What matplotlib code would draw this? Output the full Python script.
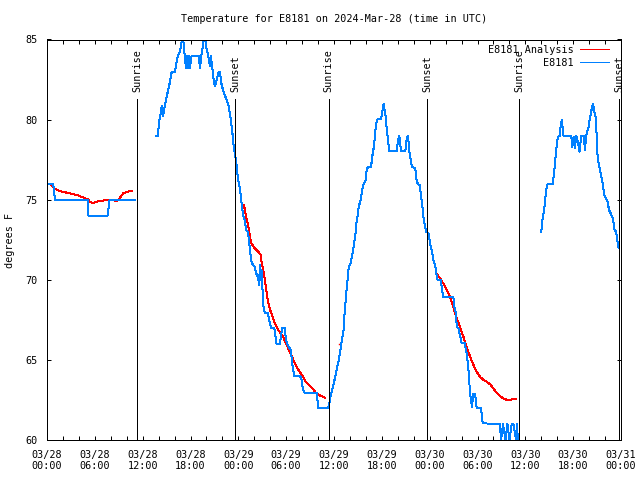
import numpy as np
import matplotlib
matplotlib.use('Agg')
import matplotlib.pyplot as plt
import matplotlib.dates as mdates
import matplotlib.transforms as mtransforms

# hours since 2024-03-28 00:00 UTC, temperature in degrees F
obs1_h = [0, 0.75, 0.85, 1.0, 5.1, 5.2, 7.6, 7.85, 11.0]
obs1_t = [76, 76, 75.7, 75, 75, 74, 74, 75, 75]

obs2_h = [13.68, 13.96, 14.0, 14.2, 14.4, 14.55, 14.8, 15.0, 15.4, 15.65,
          16.06, 16.3, 16.5, 16.7, 16.9, 17.0, 17.2, 17.3, 17.45, 17.55,
          17.65, 17.8, 17.9, 18.15, 19.0, 19.2, 19.35, 19.6, 19.75, 19.95,
          20.2, 20.45, 20.55, 20.8, 20.95, 21.1, 21.3, 21.5, 21.7, 21.85,
          22.1, 22.5, 22.75, 23.0, 23.1, 23.25, 23.4, 23.6, 23.75, 23.96,
          24.2, 24.4, 24.6, 24.8, 25.0, 25.2, 25.4, 25.6, 25.85, 26.06,
          26.25, 26.5, 26.6, 26.7, 26.8, 26.9, 27.0, 27.1, 27.3, 27.7,
          27.95, 28.1, 28.5, 28.7, 28.8, 29.2, 29.4, 29.5, 29.8, 29.95,
          30.1, 30.35, 30.6, 30.75, 31.0, 31.7, 31.9, 32.1, 32.3, 33.8,
          33.9, 34.0, 35.25, 35.4, 35.55, 35.75, 36.0, 36.2, 36.4, 36.6,
          36.8, 37.0, 37.2, 37.35, 37.5, 37.64, 37.77, 37.85, 38.05, 38.27,
          38.5, 38.7, 38.8, 39.0, 39.1, 39.3, 39.45, 39.6, 39.75, 39.95,
          40.06, 40.25, 40.65, 40.8, 41.0, 41.1, 41.2, 41.3, 41.5, 41.9,
          42.0, 42.16, 42.25, 42.3, 42.45, 42.6, 42.8, 42.95, 43.9, 44.0,
          44.2, 44.3, 44.45, 44.95, 45.1, 45.25, 45.4, 45.5, 45.7, 45.8,
          46.2, 46.3, 46.5, 46.75, 46.9, 47.05, 47.2, 47.35, 47.55, 47.85,
          48.05, 48.25, 48.5, 48.7, 48.8, 49.0, 49.4, 49.5, 49.7, 50.96,
          51.1, 51.3, 51.4, 51.6, 51.8, 52.0, 52.4, 52.65, 52.85, 52.97,
          53.07, 53.3, 53.5, 53.7, 53.9, 54.45, 54.65, 56.8, 56.96, 57.2,
          57.5, 57.75, 58.0, 58.3, 58.5, 58.85, 58.95, 59.06]
obs2_t = [79.0, 79.0, 79.7, 80.2, 80.85, 80.2, 80.95, 81.4, 82.3, 83.0,
          83.0, 83.76, 84.07, 84.3, 84.9, 85.5, 84.4, 83.76, 83.2, 84.0,
          83.2, 84.0, 83.2, 84.0, 84.0, 83.2, 84.0, 84.7, 85.5, 84.6,
          84.0, 83.35, 84.0, 82.9, 82.3, 82.1, 82.5, 82.9, 83.0, 82.3,
          81.8, 81.26, 80.95, 80.2, 79.8, 79.2, 78.4, 77.8, 77.27, 76.3,
          75.7, 74.8, 74.05, 73.7, 73.1, 73.0, 72.17, 71.2, 70.9, 70.8,
          70.4, 70.1, 69.7, 70.9, 70.0, 70.6, 69.8, 68.5, 67.95, 67.95,
          67.3, 67.0, 67.0, 66.35, 66.0, 66.0, 66.66, 67.0, 67.0, 66.35,
          66.0, 65.8, 65.6, 64.8, 64.0, 64.0, 63.85, 63.2, 62.96, 62.96,
          62.7, 62.0, 62.0, 62.2, 62.7, 63.1, 63.6, 64.06, 64.57, 65.0,
          65.6, 66.24, 66.87, 68.1, 68.95, 69.7, 70.4, 70.8, 71.0, 71.5,
          72.17, 72.9, 73.5, 74.15, 74.57, 74.9, 75.3, 75.8, 76.0, 76.2,
          76.75, 77.06, 77.06, 77.7, 78.3, 78.83, 79.35, 79.77, 80.04, 80.04,
          80.33, 80.8, 81.0, 80.7, 80.33, 79.46, 78.6, 78.04, 78.04, 78.7,
          79.0, 78.4, 78.04, 78.04, 78.7, 79.0, 78.4, 77.8, 77.27, 77.06,
          76.95, 76.33, 76.0, 75.9, 75.3, 74.77, 74.0, 73.5, 73.0, 72.9,
          72.27, 71.86, 71.13, 70.9, 70.5, 70.0, 70.0, 69.57, 68.95, 68.95,
          68.3, 67.9, 67.07, 66.97, 66.55, 66.04, 66.04, 65.4, 64.5, 63.64,
          62.9, 62.08, 62.9, 62.9, 61.98, 61.98, 61.04, 61.0, 60.0, 61.0,
          60.0, 61.0, 60.0, 61.0, 61.0, 60.0, 61.0, 60.0]

obs3_h = [62.0, 62.15, 62.35, 62.5, 62.6, 62.8, 63.45, 63.6, 63.8, 63.95,
          64.1, 64.3, 64.45, 64.6, 64.7, 64.8, 65.75, 65.9, 66.05, 66.2,
          66.4, 66.6, 66.8, 67.0, 67.3, 67.5, 67.6, 67.9, 68.1, 68.3,
          68.5, 68.6, 68.8, 68.93, 69.05, 69.2, 69.45, 69.7, 69.9, 70.1,
          70.3, 70.5, 70.8, 71.0, 71.2, 71.4, 71.5, 71.7]
obs3_t = [73.0, 73.73, 74.36, 75.0, 75.6, 76.0, 76.0, 76.66, 77.7, 78.5,
          78.93, 78.98, 79.66, 80.0, 79.35, 78.98, 78.98, 78.3, 78.93, 78.2,
          78.98, 78.6, 78.0, 78.98, 78.98, 78.1, 78.98, 79.46, 80.08, 80.6,
          81.0, 80.6, 80.2, 79.16, 77.8, 77.27, 76.66, 76.0, 75.3, 75.1,
          74.9, 74.36, 74.05, 73.8, 73.1, 73.0, 72.6, 71.97]

ana1_h = [0, 0.5, 0.97, 1.5, 2.1, 2.85, 3.7, 4.5, 5.2, 5.35, 5.8, 6.4,
          7.45, 8.3, 8.7, 9.05, 9.55, 10.45, 10.7]
ana1_t = [76.0, 75.95, 75.7, 75.56, 75.48, 75.4, 75.3, 75.15, 75.0, 74.85,
          74.8, 74.9, 74.98, 74.98, 74.9, 75.05, 75.4, 75.55, 75.55]

ana2_h = [24.7, 25.0, 25.2, 25.4, 25.6, 26.06, 26.5, 26.8, 26.9, 27.1,
          27.3, 27.5, 27.7, 28.0, 28.3, 28.55, 29.0, 29.6, 30.0, 30.45,
          30.9, 31.3, 31.7, 32.1, 32.5, 32.95, 33.4, 33.8, 34.35, 34.85]
ana2_t = [74.67, 73.9, 73.5, 72.9, 72.3, 71.97, 71.76, 71.55, 71.13, 70.7,
          70.1, 69.36, 68.7, 68.1, 67.7, 67.3, 66.87, 66.45, 66.0, 65.5,
          65.0, 64.57, 64.26, 63.95, 63.6, 63.4, 63.16, 62.9, 62.75, 62.64]

ana3_h = [36.6]
ana3_t = [66.0]

ana4_h = [48.8, 49.3, 49.7, 50.15, 50.56, 50.96, 51.4, 51.8, 52.23, 52.65,
          53.07, 53.5, 53.9, 54.3, 54.75, 55.15, 55.6, 56.0, 56.4, 56.8,
          57.25, 57.7, 58.1, 58.5, 58.85]
ana4_t = [70.4, 70.1, 69.78, 69.36, 68.95, 68.3, 67.6, 67.07, 66.45, 65.8,
          65.2, 64.68, 64.26, 63.95, 63.75, 63.64, 63.47, 63.2, 62.95, 62.75,
          62.6, 62.5, 62.5, 62.56, 62.56]

sunrise_h = [11.3, 35.35, 59.25]
sunset_h = [23.6, 47.68, 71.77]

START = np.datetime64('2024-03-28T00:00')


def to_time(hours):
    secs = np.round(np.asarray(hours, dtype=float) * 3600).astype('int64')
    return (START + secs.astype('timedelta64[s]')).astype('datetime64[ms]')


plt.rcParams['font.family'] = ['DejaVu Sans Mono']
plt.rcParams['font.size'] = 7.3
plt.rcParams['lines.antialiased'] = False

RED = '#ff0000'
BLUE = '#0080ff'
LW = 0.72  # one pixel at 100 dpi

fig = plt.figure(figsize=(6.4, 4.8), dpi=100)
ax = fig.add_axes([47 / 640, 40 / 480, 574 / 640, 400.5 / 480])

# analysis (red) and observations (blue)
for i, (h, t) in enumerate([(ana1_h, ana1_t), (ana2_h, ana2_t), (ana4_h, ana4_t)]):
    ax.plot(to_time(h), t, color=RED, lw=LW,
            label='E8181 Analysis' if i == 0 else None)
ax.plot(to_time(ana3_h), ana3_t, ls='none', marker='s', ms=1.0, mew=0, color=RED)
for i, (h, t) in enumerate([(obs1_h, obs1_t), (obs2_h, obs2_t), (obs3_h, obs3_t)]):
    ax.plot(to_time(h), t, color=BLUE, lw=LW,
            label='E8181' if i == 0 else None)

# sunrise / sunset markers
trans = mtransforms.blended_transform_factory(ax.transData, ax.transAxes)
for name, hours in (('Sunrise', sunrise_h), ('Sunset', sunset_h)):
    for x in to_time(hours):
        ax.axvline(x, ymin=0, ymax=0.851, color='k', lw=LW)
        ax.text(x, 0.869, name, rotation=90, ha='center', va='bottom',
                transform=trans, clip_on=False)

ax.set_xlim(to_time([0])[0], to_time([72])[0])
ax.set_ylim(60, 85)
ax.xaxis.set_major_locator(mdates.HourLocator(byhour=[0, 6, 12, 18]))
ax.xaxis.set_minor_locator(mdates.HourLocator(interval=2))
ax.xaxis.set_major_formatter(mdates.DateFormatter('%m/%d\n%H:%M'))
ax.set_yticks([60, 65, 70, 75, 80, 85])
ax.tick_params(which='both', direction='in', top=True, right=True,
               length=3.2, width=LW)
ax.tick_params(axis='x', pad=7)
ax.tick_params(axis='y', pad=7)
for s in ax.spines.values():
    s.set_linewidth(LW)

leg = ax.legend(loc='upper right', bbox_to_anchor=(0.987, 0.997),
                frameon=False, markerfirst=False, handlelength=2.9,
                handletextpad=0.6, labelspacing=0.3, borderaxespad=0)

fig.text((47 + 621) / 2 / 640, 1 - 19 / 480,
         'Temperature for E8181 on 2024-Mar-28 (time in UTC)',
         ha='center', va='center')
fig.text(10 / 640, 0.5, 'degrees F', rotation=90, ha='center', va='center')

fig.savefig('out.png', dpi=100)
